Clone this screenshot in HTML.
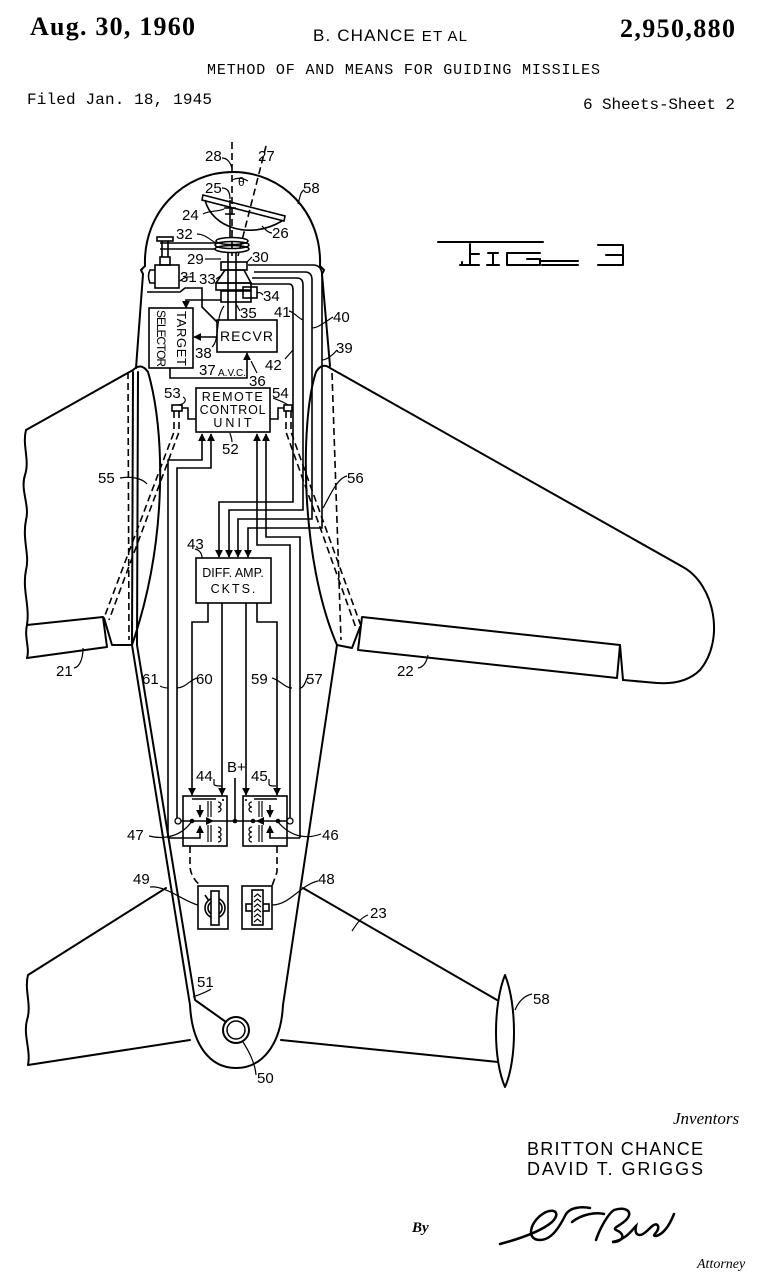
<!DOCTYPE html>
<html><head><meta charset="utf-8"><style>
html,body{margin:0;padding:0;background:#fff;}
svg{display:block;}
.l{fill:none;stroke:#000;stroke-width:2;stroke-linejoin:round;stroke-linecap:round}
.w{fill:none;stroke:#000;stroke-width:1.6;stroke-linejoin:miter}
.t{fill:none;stroke:#000;stroke-width:1.2}
.d{fill:none;stroke:#000;stroke-width:1.6;stroke-dasharray:7 4}
.n{font-family:"Liberation Sans",sans-serif;font-size:15px;fill:#000}
.s{font-family:"Liberation Sans",sans-serif;fill:#000}
</style></head><body>
<svg width="778" height="1280" viewBox="0 0 778 1280" xmlns="http://www.w3.org/2000/svg">
<defs>
<marker id="a" viewBox="0 0 10 10" refX="9" refY="5" markerWidth="5" markerHeight="6" orient="auto" markerUnits="strokeWidth"><path d="M0,0 L10,5 L0,10 z" fill="#000"/></marker>
</defs>

<!-- Header -->
<text x="30" y="35" font-family="Liberation Serif" font-weight="bold" font-size="26" textLength="165">Aug. 30, 1960</text>
<text x="313" y="41" class="s" font-size="17" textLength="154">B. CHANCE <tspan font-size="15">ET AL</tspan></text>
<text x="620" y="37" font-family="Liberation Serif" font-weight="bold" font-size="26" textLength="115">2,950,880</text>
<text x="207" y="74" font-family="Liberation Mono" font-size="15" textLength="393">METHOD OF AND MEANS FOR GUIDING MISSILES</text>
<text x="27" y="104" font-family="Liberation Mono" font-size="16" textLength="185">Filed Jan. 18, 1945</text>
<text x="583" y="109" font-family="Liberation Mono" font-size="16" textLength="152">6 Sheets-Sheet 2</text>

<!-- FIG 3 -->
<g class="l" stroke-width="2">
<path d="M438,242 H543"/>
<path d="M470,244 V265 M460,265 H479 M470,254 H479 M462,265 V262"/>
<path d="M488,253 H498 M493,253 V265 M487,265 H499"/>
<path d="M507,253 H540 M507,253 V265 H540 V259 H527"/>
<path d="M540,261 H578 M542,265 H578"/>
<path d="M598,245 H623 V265 H598 M606,255 H623"/>
</g>

<!-- Fuselage nose -->
<g class="l">
<path d="M145,266 C143,212 184,172 233,172 C282,172 322,212 320,266"/>
<path d="M145,266 L141,270 L143,274 L136,368"/>
<path d="M320,266 L324,270 L322,274 L330,366"/>
</g>

<!-- Left wing -->
<g class="l">
<path d="M26,430 L133,370 Q141,362 148,372 C165,430 168,540 132,645"/>
<path d="M26,430 C22,445 30,460 25,475 C20,490 30,505 26,520 C22,540 30,555 26,570 C22,590 30,605 27,625 C24,637 30,648 27,658"/>
<path d="M27,625 L103,617 L107,647 L27,658"/>
<path d="M104,618 L112,645 L132,645"/>
</g>
<!-- Right wing -->
<g class="l">
<path d="M337,645 C300,560 300,420 316,372 Q322,362 330,368 L683,567 C715,585 725,640 700,670 C688,682 672,684 657,683 L623,680"/>
<path d="M362,617 L620,645 L617,678 L358,650 Z"/>
<path d="M337,645 L352,648 L360,627"/>
<path d="M620,645 L623,680"/>
</g>

<!-- hidden fuselage lines in wing -->
<path class="d" d="M128,372 L129,640"/>
<path class="d" d="M332,373 L341,640"/>

<!-- Fuselage lower + tail -->
<g class="l">
<path d="M132,645 L190,1005 C192,1045 210,1068 236,1068 C262,1068 281,1045 283,1005 L337,645"/>
<path d="M138,372 L137,645 L195,1000 L226,1022"/>
<path d="M133,372 L132,645"/>
<circle cx="236" cy="1030" r="13"/>
<circle cx="236" cy="1030" r="9" stroke-width="1.5"/>
<!-- left fin -->
<path d="M166,888 L28,975 C24,990 32,1005 27,1020 C23,1035 31,1050 28,1065 L190,1040"/>
<!-- right fin -->
<path d="M303,888 L497,1000"/>
<path d="M281,1040 L498,1062"/>
<path d="M505,975 C493,1005 493,1060 505,1087 C517,1060 517,1005 505,975 Z"/>
</g>

<!-- Antenna axes -->
<path class="d" d="M232,142 V256"/>
<path class="d" d="M266,146 L238,256"/>
<text x="238" y="186" class="s" font-size="12">θ</text>
<path class="t" d="M232,180 Q240,176 248,181"/>

<!-- Dish -->
<g class="w">
<path d="M203,195 L285,216 L284,221 L202,200 Z"/>
<path d="M205,200 C212,228 250,240 282,221"/>
<path d="M230,200 V238 M224,208 H236 M225,214 H235"/>
<ellipse cx="232" cy="241" rx="16" ry="3.5"/>
<ellipse cx="232" cy="245" rx="17" ry="3.5"/>
<ellipse cx="232" cy="249" rx="17" ry="3.5"/>
<path d="M160,243 H216 M160,249 H216"/>
<rect x="157" y="237" width="16" height="4"/>
<path d="M162,241 V257 M168,241 V257"/>
<rect x="160" y="257" width="10" height="8"/>
<rect x="155" y="265" width="24" height="23"/>
<path d="M155,270 H150 Q147,276 150,283 H155"/>
<path d="M228,252 V320 M236,252 V320"/>
<rect x="221" y="262" width="26" height="8"/>
<path d="M225,270 H244 L251,283 H216 Z"/>
<rect x="216" y="283" width="35" height="7"/>
<rect x="221" y="291" width="30" height="11"/>
<rect x="243" y="287" width="14" height="11"/>
<path d="M147,292 H180 L185,288 H202 V307 L210,315 L217,322"/>
<path d="M221,300 H186 V308" marker-end="url(#a)"/>
</g>

<!-- Receiver & target selector -->
<g class="w">
<rect x="217" y="320" width="60" height="32"/>
<rect x="149" y="308" width="44" height="60"/>
<path d="M217,337 H194" marker-end="url(#a)"/>
<path d="M170,368 V378 H247 V353" marker-end="url(#a)"/>
</g>
<text x="247" y="341" class="s" font-size="14" text-anchor="middle" letter-spacing="1">RECVR</text>
<text transform="translate(177,311) rotate(90)" class="s" font-size="13" textLength="55">TARGET</text>
<text transform="translate(157,310) rotate(90)" class="s" font-size="12" textLength="57">SELECTOR</text>

<!-- Cables 39-42 -->
<g class="w">
<path d="M250,284 H289 Q293,284 293,290 V502 H219 V557" marker-end="url(#a)"/>
<path d="M252,278 H297 Q303,278 303,285 V510 H229 V557" marker-end="url(#a)"/>
<path d="M254,272 H305 Q312,272 312,280 V519 H238 V557" marker-end="url(#a)"/>
<path d="M248,265 H313 Q322,265 322,276 V528 H248 V557" marker-end="url(#a)"/>
</g>

<!-- Remote control unit -->
<g class="w">
<rect x="196" y="388" width="74" height="44"/>
<rect x="172" y="405" width="10" height="6"/>
<path d="M182,408 H188 V419 H196"/>
<rect x="284" y="405" width="8" height="6"/>
<path d="M270,419 H278 V408 H284"/>
<path d="M168,838 V460 H202 V434" marker-end="url(#a)"/>
<path d="M177,821 V468 H211 V434" marker-end="url(#a)"/>
<path d="M290,821 V545 H257 V434" marker-end="url(#a)"/>
<path d="M300,838 V537 H266 V434" marker-end="url(#a)"/>
</g>
<text x="233" y="401" class="s" font-size="12.5" text-anchor="middle" letter-spacing="1.5">REMOTE</text>
<text x="233" y="414" class="s" font-size="12.5" text-anchor="middle" letter-spacing="0.8">CONTROL</text>
<text x="234" y="427" class="s" font-size="12.5" text-anchor="middle" letter-spacing="3">UNIT</text>

<!-- dashed control linkages 55, 56 -->
<path class="d" d="M174,411 V432 L104,618"/>
<path class="d" d="M179,411 V432 L109,620"/>
<path class="d" d="M286,411 V432 L356,628"/>
<path class="d" d="M291,411 V432 L361,626"/>

<!-- Diff amp -->
<g class="w">
<rect x="196" y="558" width="75" height="45"/>
<path d="M208,603 V622 H192 V795" marker-end="url(#a)"/>
<path d="M222,603 V795" marker-end="url(#a)"/>
<path d="M246,603 V795" marker-end="url(#a)"/>
<path d="M257,603 V622 H277 V795" marker-end="url(#a)"/>
</g>
<text x="233" y="577" class="s" font-size="12.5" text-anchor="middle">DIFF. AMP.</text>
<text x="234" y="593" class="s" font-size="12.5" text-anchor="middle" letter-spacing="2">CKTS.</text>

<!-- Relays -->
<g class="w">
<rect x="183" y="796" width="44" height="50"/>
<rect x="243" y="796" width="44" height="50"/>
<path d="M192,799 H216 M223,799 V801"/>
<path d="M277,799 H254 M246,799 V801"/>
<path class="t" d="M218,802 a3,2.5 0 1 1 0,5 a3,2.5 0 1 1 0,5 M218,827 a3,2.5 0 1 1 0,5 a3,2.5 0 1 1 0,5 a3,2.5 0 1 1 0,5"/>
<path class="t" d="M252,802 a3,2.5 0 1 0 0,5 a3,2.5 0 1 0 0,5 M252,827 a3,2.5 0 1 0 0,5 a3,2.5 0 1 0 0,5 a3,2.5 0 1 0 0,5"/>
<path class="t" d="M208,801 V817 M211,801 V817 M208,825 V842 M211,825 V842"/>
<path class="t" d="M259,801 V817 M262,801 V817 M259,825 V842 M262,825 V842"/>
<path d="M200,805 V817" marker-end="url(#a)"/>
<path d="M168,838 H200 V826" marker-end="url(#a)"/>
<path d="M270,805 V817" marker-end="url(#a)"/>
<path d="M300,838 H270 V826" marker-end="url(#a)"/>
<path d="M181,821 H287"/>
<path d="M235,778 V821"/>
</g>
<polygon points="214,821 206,817 206,825" fill="#000"/>
<polygon points="256,821 264,817 264,825" fill="#000"/>
<circle cx="178" cy="821" r="3" fill="#fff" stroke="#000" stroke-width="1.3"/>
<circle cx="290" cy="821" r="3" fill="#fff" stroke="#000" stroke-width="1.3"/>
<circle cx="192" cy="821" r="2.3"/><circle cx="235" cy="821" r="2.3"/>
<circle cx="253" cy="821" r="2.3"/><circle cx="278" cy="821" r="2.3"/>

<!-- dashed relay-to-servo -->
<path class="d" d="M190,846 V867 Q191,878 201,886"/>
<path class="d" d="M277,846 V872 L272,886"/>

<!-- Servos 49, 48 -->
<g class="w">
<rect x="198" y="886" width="30" height="43"/>
<circle cx="215" cy="908" r="10"/>
<circle cx="215" cy="908" r="7"/>
<rect x="211" y="891" width="8" height="34" fill="#fff"/>
<path d="M205,895 L209,901"/>
<rect x="242" y="886" width="30" height="43"/>
<rect x="246" y="904" width="23" height="7" fill="#fff"/>
<rect x="252" y="890" width="11" height="35" fill="#fff"/>
<path class="t" d="M254,897 L257.5,894 L261,897 M254,902 L257.5,899 L261,902 M254,907 L257.5,904 L261,907 M254,912 L257.5,909 L261,912 M254,917 L257.5,914 L261,917 M254,922 L257.5,919 L261,922"/>
</g>

<!-- Leaders -->
<g class="t">
<path d="M222,158 C228,158 231,164 232,168"/>
<path d="M222,188 C228,188 230,193 230,199"/>
<path d="M304,190 C300,192 300,198 298,204"/>
<path d="M203,214 C210,210 218,212 224,209"/>
<path d="M272,233 C268,233 265,229 262,226"/>
<path d="M197,234 C205,234 210,240 216,243"/>
<path d="M205,259 H221"/>
<path d="M252,257 L246,263"/>
<path d="M193,277 C186,276 182,279 180,281"/>
<path d="M216,279 L222,275"/>
<path d="M263,295 C260,291 258,293 257,293"/>
<path d="M240,311 L236,304"/>
<path d="M212,347 C220,340 215,318 224,306"/>
<path d="M257,373 L251,361"/>
<path d="M285,359 L293,350"/>
<path d="M289,311 C294,312 298,318 303,320"/>
<path d="M333,317 C325,322 318,328 312,328"/>
<path d="M337,350 C332,356 326,360 322,360"/>
<path d="M183,397 C187,399 186,404 178,405"/>
<path d="M273,398 C278,400 284,402 288,405"/>
<path d="M232,442 C232,437 230,435 230,433"/>
<path d="M195,549 C200,550 202,554 202,558"/>
<path d="M120,478 C130,476 142,478 147,484"/>
<path d="M347,476 C337,478 330,496 323,508"/>
<path d="M74,668 C80,667 83,658 83,648"/>
<path d="M418,668 C425,667 427,660 428,655"/>
<path d="M160,686 C164,688 166,688 168,688"/>
<path d="M197,678 C190,680 185,688 177,688"/>
<path d="M272,678 C280,680 285,688 292,688"/>
<path d="M307,678 C305,684 303,688 300,688"/>
<path d="M214,779 V784 C214,786 218,786 222,786"/>
<path d="M269,779 V784 C269,786 272,786 276,786"/>
<path d="M149,836 C165,840 182,836 192,821"/>
<path d="M321,834 C305,840 290,836 278,822"/>
<path d="M150,887 C165,885 185,902 198,905"/>
<path d="M318,881 C300,885 290,905 272,905"/>
<path d="M368,915 C360,918 356,925 352,931"/>
<path d="M211,989 C205,993 198,995 193,997"/>
<path d="M256,1075 C255,1062 248,1050 243,1042"/>
<path d="M532,994 C523,996 518,1003 515,1010"/>
</g>

<!-- Labels -->
<g class="n">
<text x="205" y="161">28</text>
<text x="258" y="161">27</text>
<text x="205" y="193">25</text>
<text x="303" y="193">58</text>
<text x="182" y="220">24</text>
<text x="272" y="238">26</text>
<text x="176" y="239">32</text>
<text x="187" y="264">29</text>
<text x="252" y="262">30</text>
<text x="180" y="282">31</text>
<text x="199" y="284">33</text>
<text x="263" y="301">34</text>
<text x="240" y="318">35</text>
<text x="274" y="317">41</text>
<text x="333" y="322">40</text>
<text x="336" y="353">39</text>
<text x="265" y="370">42</text>
<text x="195" y="358">38</text>
<text x="199" y="375">37</text>
<text x="218" y="376" font-size="10">A.V.C.</text>
<text x="249" y="386">36</text>
<text x="164" y="398">53</text>
<text x="272" y="398">54</text>
<text x="222" y="454">52</text>
<text x="98" y="483">55</text>
<text x="347" y="483">56</text>
<text x="187" y="549">43</text>
<text x="56" y="676">21</text>
<text x="397" y="676">22</text>
<text x="142" y="684">61</text>
<text x="196" y="684">60</text>
<text x="251" y="684">59</text>
<text x="306" y="684">57</text>
<text x="227" y="772">B+</text>
<text x="196" y="781">44</text>
<text x="251" y="781">45</text>
<text x="127" y="840">47</text>
<text x="322" y="840">46</text>
<text x="133" y="884">49</text>
<text x="318" y="884">48</text>
<text x="370" y="918">23</text>
<text x="197" y="987">51</text>
<text x="257" y="1083">50</text>
<text x="533" y="1004">58</text>
</g>

<!-- Inventors / attorney -->
<text x="673" y="1124" font-family="Liberation Serif" font-style="italic" font-size="17">Jnventors</text>
<text x="527" y="1155" class="s" font-size="18" textLength="176">BRITTON CHANCE</text>
<text x="527" y="1175" class="s" font-size="18" textLength="176">DAVID T. GRIGGS</text>
<text x="412" y="1232" font-family="Liberation Serif" font-weight="bold" font-style="italic" font-size="15">By</text>
<path fill="none" stroke="#000" stroke-width="2.5" stroke-linecap="round" d="M500,1244 C530,1236 545,1228 552,1222 C560,1214 556,1208 546,1212 C530,1220 525,1240 540,1240 C552,1240 560,1226 566,1214 C570,1208 580,1206 590,1208 M572,1222 C582,1214 596,1212 604,1214 M596,1240 C600,1228 608,1214 614,1210 C626,1206 634,1212 626,1220 C620,1226 612,1228 616,1230 C626,1234 624,1242 612,1242 C626,1240 632,1230 636,1226 C634,1236 640,1238 648,1230 C652,1226 656,1222 658,1226 C660,1232 650,1236 656,1236 C664,1234 670,1224 674,1214"/>
<text x="697" y="1268" font-family="Liberation Serif" font-style="italic" font-size="14">Attorney</text>
</svg>
</body></html>
